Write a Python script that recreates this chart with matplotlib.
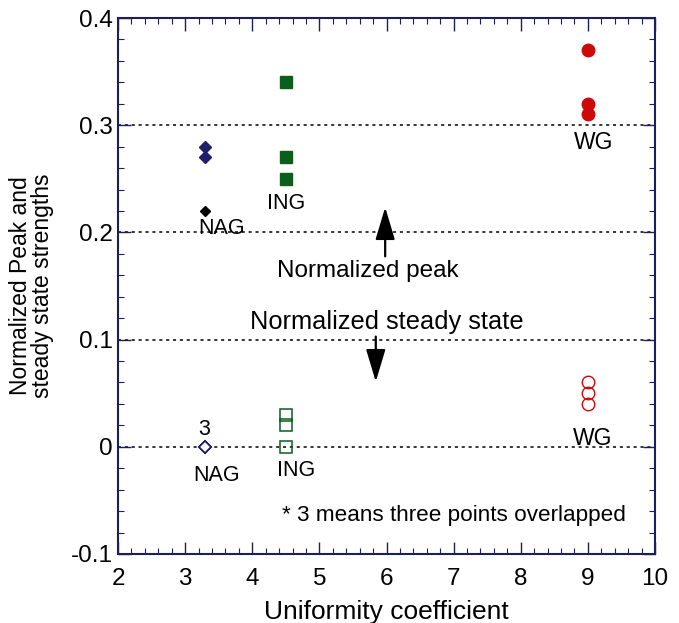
import matplotlib
matplotlib.use("Agg")
import matplotlib.pyplot as plt
from matplotlib.ticker import MultipleLocator

plt.rcParams['font.family'] = ['Liberation Sans', 'DejaVu Sans']

# Uniformity coefficient of each soil
cu_nag = 3.3
cu_ing = 4.5
cu_wg = 9.0

# Normalized peak strengths
peak_nag = [0.28, 0.27]
peak_nag_black = [0.22]
peak_ing = [0.34, 0.27, 0.25]
peak_wg = [0.37, 0.32, 0.31]

# Normalized steady state strengths
steady_nag = [0.0, 0.0, 0.0]
steady_ing = [0.03, 0.02, 0.0]
steady_wg = [0.06, 0.05, 0.04]

grid_levels = [0.3, 0.2, 0.1, 0.0]

navy = '#1c1f6b'
green = '#0b5e1c'
red = '#cc0a0a'
axis_col = '#1c1f5e'

fig = plt.figure(figsize=(6.79, 6.23), dpi=100)
ax = fig.add_axes([0.1738, 0.1108, 0.7909, 0.8603])

for g in grid_levels:
    ax.axhline(g, color='black', linestyle=(0, (2, 2.5)), linewidth=1.1, zorder=1)

# peak values
ax.plot([cu_nag] * len(peak_nag), peak_nag, 'D', color=navy, ms=6, zorder=3)
ax.plot([cu_nag] * len(peak_nag_black), peak_nag_black, 'D', color='black', ms=5.5, zorder=3)
ax.plot([cu_ing] * len(peak_ing), peak_ing, 's', color=green, ms=9, zorder=3)
ax.plot([cu_wg] * len(peak_wg), peak_wg, 'o', color=red, ms=9, zorder=3)

# steady state values
ax.plot([cu_nag] * len(steady_nag), steady_nag, 'D', mfc='white', mec=navy, mew=1.2, ms=6.5, zorder=3)
ax.plot([cu_ing] * len(steady_ing), steady_ing, 's', mfc='none', mec=green, mew=1.1, ms=9, zorder=3)
ax.plot([cu_wg] * len(steady_wg), steady_wg, 'o', mfc='none', mec=red, mew=1.0, ms=9, zorder=3)

# group labels
fs_lab = 15.5
ax.text(3.55, 0.204, 'NAG', fontsize=fs_lab, ha='center', va='center', zorder=4)
ax.text(4.5, 0.227, 'ING', fontsize=fs_lab, ha='center', va='center', zorder=4)
ax.text(9.08, 0.284, 'WG', fontsize=16.5, ha='center', va='center', zorder=4)
ax.text(3.28, 0.016, '3', fontsize=fs_lab, ha='center', va='center', zorder=4)
ax.text(3.47, -0.027, 'NAG', fontsize=fs_lab, ha='center', va='center', zorder=4)
ax.text(4.65, -0.022, 'ING', fontsize=fs_lab, ha='center', va='center', zorder=4)
ax.text(9.07, 0.008, 'WG', fontsize=16.5, ha='center', va='center', zorder=4)

# direction arrows with captions
arrow_style = '-|>,head_length=1.0,head_width=0.3'
ax.annotate('', xy=(5.98, 0.2234), xytext=(5.98, 0.1776),
            arrowprops=dict(arrowstyle=arrow_style, mutation_scale=20,
                            color='black', lw=1.6, shrinkA=0, shrinkB=0))
ax.annotate('', xy=(5.84, 0.0607), xytext=(5.84, 0.1028),
            arrowprops=dict(arrowstyle=arrow_style, mutation_scale=20,
                            color='black', lw=1.6, shrinkA=0, shrinkB=0))
ax.text(5.72, 0.1636, 'Normalized peak', fontsize=17.5, ha='center', va='center')
ax.text(6.0, 0.116, 'Normalized steady state', fontsize=18.3, ha='center', va='center')
ax.text(7.0, -0.064, '* 3 means three points overlapped', fontsize=16.2, ha='center', va='center')

ax.set_xlim(2, 10)
ax.set_ylim(-0.1, 0.4)
ax.xaxis.set_major_locator(MultipleLocator(1))
ax.xaxis.set_minor_locator(MultipleLocator(0.2))
ax.yaxis.set_major_locator(MultipleLocator(0.1))
ax.yaxis.set_minor_locator(MultipleLocator(0.02))
ax.set_yticks([-0.1, 0, 0.1, 0.2, 0.3, 0.4])
ax.set_yticklabels(['-0.1', '0', '0.1', '0.2', '0.3', '0.4'])

ax.tick_params(which='both', direction='in', top=True, right=True, color=axis_col, labelsize=17.5)
ax.tick_params(axis='x', which='major', pad=10)
ax.tick_params(axis='y', which='major', pad=4)
ax.tick_params(which='major', length=9, width=1)
ax.tick_params(which='minor', length=4.5, width=0.8)
for s in ax.spines.values():
    s.set_color(axis_col)
    s.set_linewidth(1.5)

ax.set_xlabel('Uniformity coefficient', fontsize=19, labelpad=7)
ax.set_ylabel('Normalized Peak and\nsteady state strengths', fontsize=16.5,
              labelpad=12, linespacing=0.95)

fig.savefig('out.png', dpi=100)
